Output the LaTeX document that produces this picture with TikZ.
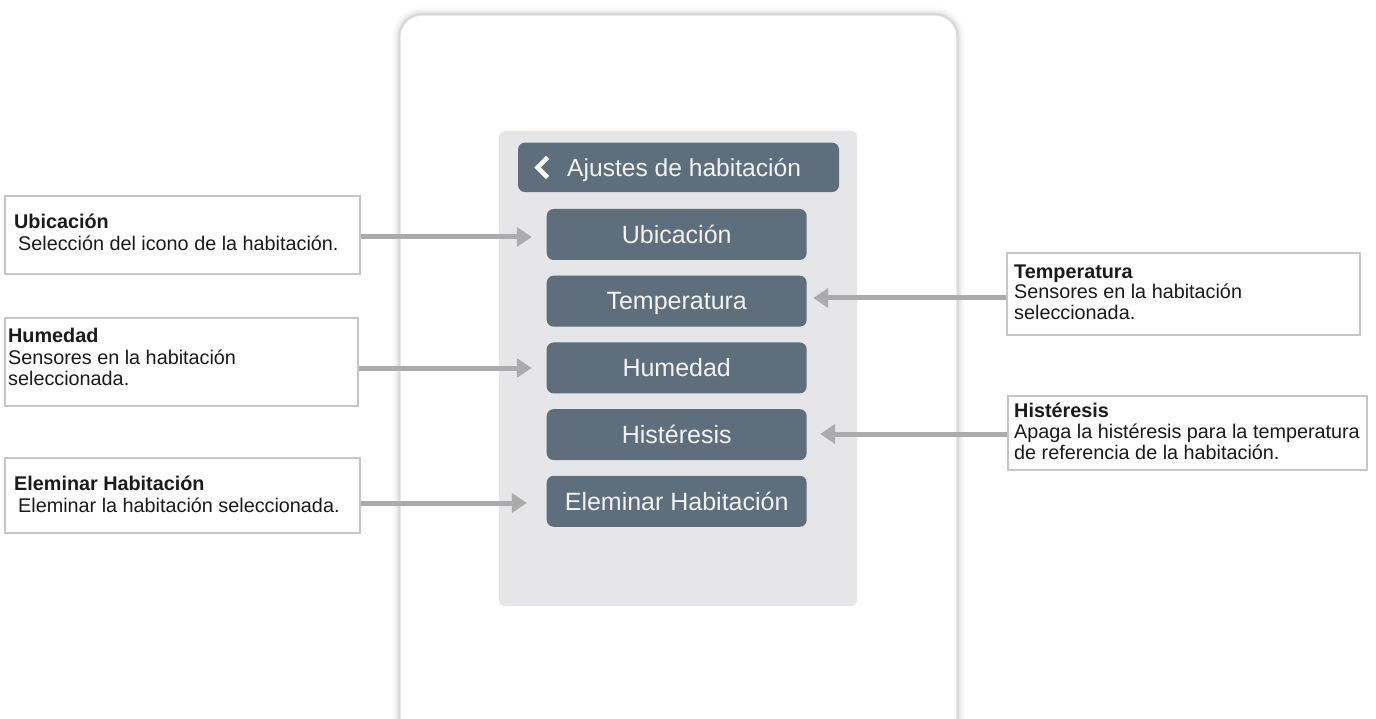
\documentclass[tikz,border=0pt]{standalone}
\usepackage{fontspec}
\setmainfont{Liberation Sans}
\usetikzlibrary{arrows.meta}
\definecolor{btn}{HTML}{5F6E7D}
\definecolor{panel}{HTML}{E6E6E8}
\definecolor{arrowgray}{HTML}{ABABAB}
\definecolor{boxline}{HTML}{C6C6C6}
\definecolor{frameline}{HTML}{DDDDDD}
\definecolor{labeltext}{HTML}{1A1A1A}
\definecolor{btntext}{HTML}{F2F4F6}
\begin{document}
\begin{tikzpicture}[x=1pt,y=-1pt,
  frame/.style={draw=frameline, line width=1.2pt, fill=white, rounded corners=22pt, minimum width=557pt, minimum height=770pt, inner sep=0pt},
  panelbox/.style={fill=panel, rounded corners=6pt, minimum width=358pt, minimum height=475pt, inner sep=0pt},
  header/.style={fill=btn, rounded corners=7pt, minimum width=321pt, minimum height=49.5pt, inner sep=0pt},
  btnbox/.style={fill=btn, rounded corners=7pt, minimum width=260pt, minimum height=51pt, inner sep=0pt,
     text=btntext, font=\fontsize{25}{29}\selectfont, text height=17.5pt, text depth=0pt},
  labelbox/.style={draw=boxline, line width=1.3pt, fill=white, inner sep=0pt},
  ltitle/.style={anchor=base west, inner sep=0pt, text=labeltext, font=\fontsize{19.8}{21}\selectfont\bfseries},
  ltext/.style={anchor=base west, inner sep=0pt, text=labeltext, font=\fontsize{19.8}{21}\selectfont},
  arr/.style={draw=arrowgray, line width=5pt, -{Triangle[length=15pt,width=19pt]}}
]
\useasboundingbox (0,0) rectangle (1376,719);
\clip (0,0) rectangle (1376,719);

% device frame with soft shadow
\foreach \w/\o in {16/0.015,12/0.025,8/0.035,5/0.045,3/0.06}{
  \draw[line width=\w pt, black, opacity=\o, rounded corners=22pt] (400,15) rectangle (957,785);
}
\node[frame] (frame) at (678.5,400) {};

% panel
\node[panelbox] (panel) at (678,368.5) {};

% header
\node[header] (hdr) at (678.5,167.3) {};
\coordinate (chevtop) at (547.5,157.5);
\coordinate (chevmid) at (537.5,167.5);
\coordinate (chevbot) at (547.5,177.5);
\draw[white, line width=4.6pt, line join=miter] (chevtop) -- (chevmid) -- (chevbot);
\node[anchor=west, inner sep=0pt, text=btntext, font=\fontsize{24.6}{28}\selectfont, text height=17.5pt, text depth=0pt] (hdrtext) at (567,167.3) {Ajustes de habitación};

% buttons
\node[btnbox] (bu) at (676.7,234.5) {Ubicación};
\node[btnbox] (bt) at (676.7,301.2) {Temperatura};
\node[btnbox] (bh) at (676.7,367.9) {Humedad};
\node[btnbox] (bhy) at (676.7,434.6) {Histéresis};
\node[btnbox] (be) at (676.7,501.3) {Eleminar Habitación};

% left label boxes
\node[labelbox, minimum width=355pt, minimum height=78pt] (ubox) at (182.5,235) {};
\node[ltitle] (ut1) at (14,228.5) {Ubicación};
\node[ltext] (ut2) at (18,250.5) {Selección del icono de la habitación.};

\node[labelbox, minimum width=353pt, minimum height=88pt] (hbox) at (181.5,362) {};
\node[ltitle] (ht1) at (8,342.5) {Humedad};
\node[ltext] (ht2) at (8,364) {Sensores en la habitación};
\node[ltext] (ht3) at (8,385.5) {seleccionada.};

\node[labelbox, minimum width=355pt, minimum height=75pt] (ebox) at (182.5,495.5) {};
\node[ltitle] (et1) at (14,490.5) {Eleminar Habitación};
\node[ltext] (et2) at (18,512.5) {Eleminar la habitación seleccionada.};

% right label boxes
\node[labelbox, minimum width=353pt, minimum height=82pt] (tbox) at (1183.5,294) {};
\node[ltitle] (tt1) at (1014,278.5) {Temperatura};
\node[ltext] (tt2) at (1014,299) {Sensores en la habitación};
\node[ltext] (tt3) at (1014,319.5) {seleccionada.};

\node[labelbox, minimum width=359pt, minimum height=74pt] (ybox) at (1187.5,433) {};
\node[ltitle] (yt1) at (1014,417.5) {Histéresis};
\node[ltext] (yt2) at (1014,438.5) {Apaga la histéresis para la temperatura};
\node[ltext] (yt3) at (1014,459) {de referencia de la habitación.};

% arrows
\draw[arr, shorten >=14.7pt] (ubox.east |- 0,237) -- (bu.west |- 0,237);
\draw[arr, shorten >=14.7pt] (hbox.east |- 0,368) -- (bh.west |- 0,368);
\draw[arr, shorten >=19.7pt] (ebox.east |- 0,503) -- (be.west |- 0,503);
\draw[arr, shorten >=6.3pt] (tbox.west |- 0,298) -- (bt.east |- 0,298);
\draw[arr, shorten >=13.3pt] (ybox.west |- 0,434) -- (bhy.east |- 0,434);
\end{tikzpicture}
\end{document}
